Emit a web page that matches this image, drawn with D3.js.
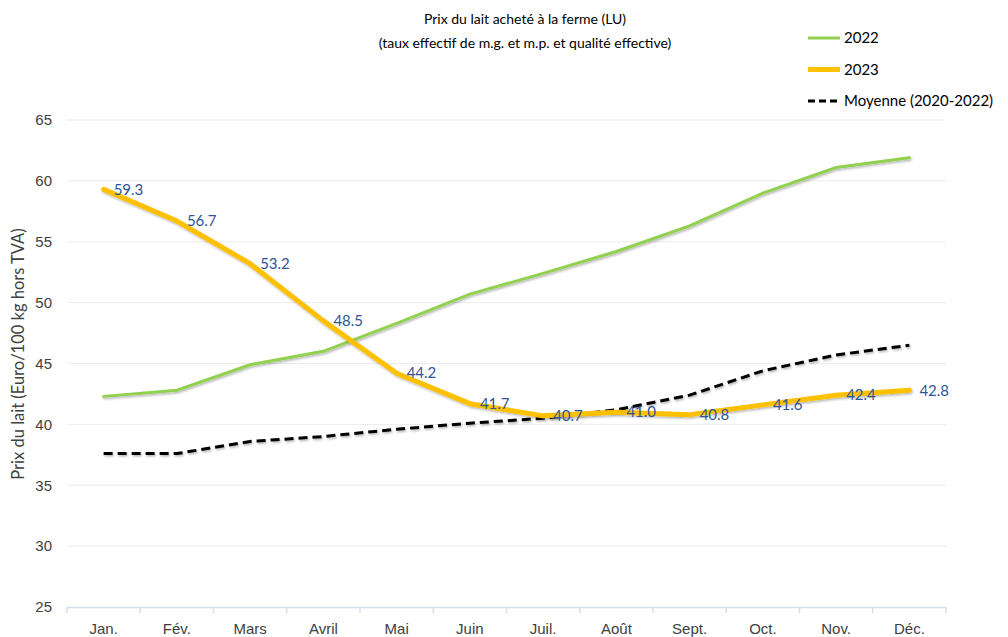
<!DOCTYPE html>
<html>
<head>
<meta charset="utf-8">
<script src="https://cdn.jsdelivr.net/npm/d3@7"></script>
<style>
  body { margin: 0; background: #fff; }
  svg { font-family: Lato, "Open Sans", sans-serif; }
</style>
</head>
<body>
<script>
// months (x categories)
var months = ["Jan.", "Fév.", "Mars", "Avril", "Mai", "Juin", "Juil.", "Août", "Sept.", "Oct.", "Nov.", "Déc."];

// series values
var prix2022 = [42.3, 42.8, 44.9, 46.0, 48.3, 50.7, 52.4, 54.2, 56.3, 59.0, 61.1, 61.9];
var prix2023 = [59.3, 56.7, 53.2, 48.5, 44.2, 41.7, 40.7, 41.0, 40.8, 41.6, 42.4, 42.8];
var moyenne = [37.6, 37.6, 38.6, 39.0, 39.6, 40.1, 40.5, 41.2, 42.4, 44.4, 45.7, 46.5];

var yTicks = [25, 30, 35, 40, 45, 50, 55, 60, 65];

var width = 1008, height = 637;
var margin = {top: 120, right: 62, bottom: 30, left: 67};

var svg = d3.select("body").append("svg")
    .attr("width", width)
    .attr("height", height);

// soft shadow like the office chart
var defs = svg.append("defs");
var f = defs.append("filter").attr("id", "shadow")
    .attr("x", "-5%").attr("y", "-5%").attr("width", "110%").attr("height", "120%");
f.append("feDropShadow").attr("dx", 1).attr("dy", 1.5).attr("stdDeviation", 1)
    .attr("flood-color", "#000").attr("flood-opacity", 0.3);

var x = d3.scaleBand()
    .domain(months)
    .range([margin.left, width - margin.right]);

var y = d3.scaleLinear()
    .domain([25, 65])
    .range([height - margin.bottom, margin.top]);

// gridlines
svg.append("g").selectAll("line")
    .data(yTicks.slice(1))
  .enter().append("line")
    .attr("x1", margin.left)
    .attr("x2", width - margin.right)
    .attr("y1", function(d) { return y(d); })
    .attr("y2", function(d) { return y(d); })
    .style("stroke", "#ececec")
    .style("stroke-width", 1);

// y axis labels
var yAxis = svg.append("g")
    .attr("transform", "translate(" + margin.left + ",0)")
    .call(d3.axisLeft(y).tickValues(yTicks).tickSize(0).tickPadding(15).tickFormat(d3.format("d")));
yAxis.select(".domain").remove();
yAxis.selectAll("text")
    .style("font-size", "15px")
    .style("fill", "#404040");

// x axis
var xAxis = svg.append("g")
    .attr("transform", "translate(0," + y(25) + ")")
    .call(d3.axisBottom(x).tickSize(0).tickPadding(16));
xAxis.select(".domain").style("stroke", "#d6deeb").style("stroke-width", 1.5);
xAxis.selectAll("text")
    .style("font-size", "15px")
    .style("fill", "#404040");

// tick marks at band boundaries
var bounds = months.map(function(m) { return x(m); }).concat([x.range()[1]]);
svg.append("g").selectAll("line")
    .data(bounds)
  .enter().append("line")
    .attr("x1", function(d) { return d; })
    .attr("x2", function(d) { return d; })
    .attr("y1", y(25))
    .attr("y2", y(25) + 6)
    .style("stroke", "#d6deeb")
    .style("stroke-width", 1.5);

var cx = function(d, i) { return x(months[i]) + x.bandwidth() / 2; };

var line = d3.line()
    .x(cx)
    .y(function(d) { return y(d); });

// 2022
svg.append("path")
    .datum(prix2022)
    .attr("d", line)
    .attr("filter", "url(#shadow)")
    .style("fill", "none")
    .style("stroke", "#92d050")
    .style("stroke-width", 3)
    .style("stroke-linecap", "round");

// moyenne
svg.append("path")
    .datum(moyenne)
    .attr("d", line)
    .attr("filter", "url(#shadow)")
    .style("fill", "none")
    .style("stroke", "#000")
    .style("stroke-width", 3)
    .style("stroke-dasharray", "9,5");

// 2023
svg.append("path")
    .datum(prix2023)
    .attr("d", line)
    .attr("filter", "url(#shadow)")
    .style("fill", "none")
    .style("stroke", "#ffc000")
    .style("stroke-width", 5)
    .style("stroke-linecap", "round")
    .style("stroke-linejoin", "round");

// data labels for 2023
svg.append("g").selectAll("text")
    .data(prix2023)
  .enter().append("text")
    .attr("x", function(d, i) { return cx(d, i) + 10; })
    .attr("y", function(d) { return y(d); })
    .attr("dy", ".35em")
    .style("font-size", "15px")
    .style("fill", "#2f5597")
    .text(function(d) { return d3.format(".1f")(d); });

// title
svg.append("text")
    .attr("x", 525).attr("y", 24)
    .attr("text-anchor", "middle")
    .style("font-size", "14px")
    .style("fill", "#000")
    .text("Prix du lait acheté à la ferme (LU)");
svg.append("text")
    .attr("x", 525).attr("y", 48)
    .attr("text-anchor", "middle")
    .style("font-size", "14px")
    .style("fill", "#000")
    .text("(taux effectif de m.g. et m.p. et qualité effective)");

// y axis title
svg.append("text")
    .attr("transform", "translate(24,354) rotate(-90)")
    .attr("text-anchor", "middle")
    .style("font-size", "16.5px")
    .style("fill", "#404040")
    .text("Prix du lait (Euro/100 kg hors TVA)");

// legend
var legend = [
  {name: "2022", color: "#92d050", w: 3, dash: null},
  {name: "2023", color: "#ffc000", w: 5, dash: null},
  {name: "Moyenne (2020-2022)", color: "#000", w: 3, dash: "7,4"}
];
var lg = svg.append("g").selectAll("g")
    .data(legend)
  .enter().append("g")
    .attr("transform", function(d, i) { return "translate(808," + (38 + i * 31.5) + ")"; });
lg.append("line")
    .attr("x1", 0).attr("x2", 32)
    .style("stroke", function(d) { return d.color; })
    .style("stroke-width", function(d) { return d.w; })
    .style("stroke-dasharray", function(d) { return d.dash; });
lg.append("text")
    .attr("x", 36)
    .attr("dy", ".35em")
    .style("font-size", "15px")
    .style("fill", "#000")
    .text(function(d) { return d.name; });
</script>
</body>
</html>
